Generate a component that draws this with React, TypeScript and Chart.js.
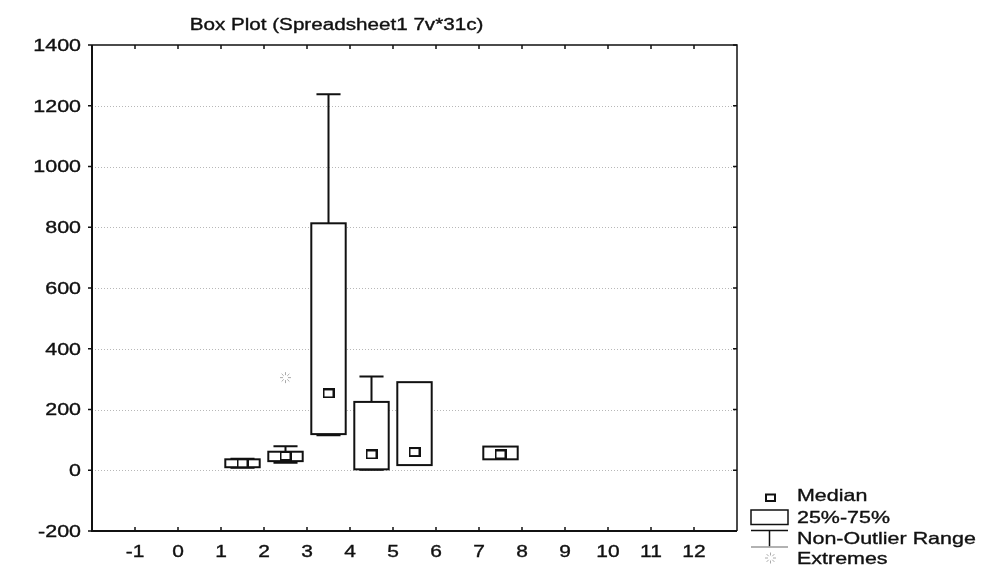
import React, { useEffect, useRef } from 'react';
import { Chart, registerables } from 'chart.js';

Chart.register(...registerables);

// ---- data ----
const chartTitle = 'Box Plot (Spreadsheet1 7v*31c)';
const variables = ['1', '2', '3', '4', '5', '6', '7'];
const positions = [1.5, 2.5, 3.5, 4.5, 5.5, 6.5, 7.5];
const minValues: (number | null)[] = [8, 25, 115, 2, 17, null, 36];
const q1Values: (number | null)[] = [10, 30, 119, 3, 17, null, 36];
const medianValues: (number | null)[] = [23, 47, 253, 52, 60, null, 52];
const q3Values: (number | null)[] = [36, 61, 813, 225, 290, null, 78];
const maxValues: (number | null)[] = [38, 79, 1238, 309, 290, null, 78];
const extremeX = [2.5];
const extremeY = [305];
const xTickValues = [-1, 0, 1, 2, 3, 4, 5, 6, 7, 8, 9, 10, 11, 12];
const yTickValues = [-200, 0, 200, 400, 600, 800, 1000, 1200, 1400];
const legendLabels = ['Median', '25%-75%', 'Non-Outlier Range', 'Extremes'];

const FONT = '"Liberation Sans", Arial, sans-serif';

function stretchedText(
  ctx: CanvasRenderingContext2D,
  text: string,
  x: number,
  y: number,
  size: number,
  stretch: number,
  align: CanvasTextAlign
) {
  ctx.save();
  ctx.translate(x, y);
  ctx.scale(stretch, 1);
  ctx.font = `${size}px ${FONT}`;
  ctx.fillStyle = '#111';
  ctx.strokeStyle = '#111';
  ctx.lineWidth = 0.35;
  ctx.textAlign = align;
  ctx.textBaseline = 'alphabetic';
  ctx.fillText(text, 0, 0);
  ctx.strokeText(text, 0, 0);
  ctx.restore();
}

function makeMedianImage() {
  const c = document.createElement('canvas');
  c.width = 12;
  c.height = 10;
  const g = c.getContext('2d')!;
  g.fillStyle = '#fff';
  g.fillRect(1, 1, 10, 8);
  g.strokeStyle = '#111';
  g.lineWidth = 2;
  g.strokeRect(1, 1, 10, 8);
  return c;
}

function drawStar(g: CanvasRenderingContext2D, cx: number, cy: number) {
  g.save();
  g.strokeStyle = '#aaa';
  g.lineWidth = 1;
  for (let k = 0; k < 8; k++) {
    const a = (Math.PI / 4) * k;
    g.beginPath();
    g.moveTo(cx + Math.cos(a) * 2.5, cy + Math.sin(a) * 2.5);
    g.lineTo(cx + Math.cos(a) * 5.5, cy + Math.sin(a) * 5.5);
    g.stroke();
  }
  g.restore();
}

function makeExtremeImage() {
  const c = document.createElement('canvas');
  c.width = 13;
  c.height = 13;
  const g = c.getContext('2d')!;
  drawStar(g, 6.5, 6.5);
  return c;
}

const boxPlugin = {
  id: 'boxPlot',
  beforeDatasetsDraw(chart: any) {
    const { ctx, chartArea: a, scales } = chart;
    const xs = scales.x;
    const ys = scales.y;
    ctx.save();
    // dotted grid
    ctx.strokeStyle = '#b8b8b8';
    ctx.lineWidth = 1;
    ctx.setLineDash([1, 2]);
    yTickValues.forEach((v) => {
      const y = Math.round(ys.getPixelForValue(v)) + 0.5;
      if (y <= a.top + 2 || y >= a.bottom - 2) return;
      ctx.beginPath();
      ctx.moveTo(a.left, y);
      ctx.lineTo(a.right, y);
      ctx.stroke();
    });
    ctx.setLineDash([]);

    // boxes and whiskers
    ctx.strokeStyle = '#111';
    variables.forEach((_, i) => {
      const q1 = q1Values[i];
      const q3 = q3Values[i];
      const mn = minValues[i];
      const mx = maxValues[i];
      if (q1 == null || q3 == null || mn == null || mx == null) return;
      const p = positions[i];
      const xc = xs.getPixelForValue(p);
      const xl = xs.getPixelForValue(p - 0.4);
      const xr = xs.getPixelForValue(p + 0.4);
      const half = xs.getPixelForValue(p + 0.28) - xc;
      const yq1 = ys.getPixelForValue(q1);
      const yq3 = ys.getPixelForValue(q3);
      const ymn = ys.getPixelForValue(mn);
      const ymx = ys.getPixelForValue(mx);
      ctx.lineWidth = 2;
      if (mx > q3) {
        ctx.beginPath();
        ctx.moveTo(xc, yq3);
        ctx.lineTo(xc, ymx);
        ctx.moveTo(xc - half, ymx);
        ctx.lineTo(xc + half, ymx);
        ctx.stroke();
      }
      if (mn < q1) {
        ctx.beginPath();
        ctx.moveTo(xc, yq1);
        ctx.lineTo(xc, ymn);
        ctx.moveTo(xc - half, ymn);
        ctx.lineTo(xc + half, ymn);
        ctx.stroke();
      }
      ctx.fillStyle = '#fff';
      ctx.fillRect(xl, yq3, xr - xl, yq1 - yq3);
      ctx.strokeRect(xl, yq3, xr - xl, yq1 - yq3);
    });
    ctx.restore();
  },
  afterDatasetsDraw(chart: any) {
    const { ctx, chartArea: a, scales } = chart;
    const xs = scales.x;
    const ys = scales.y;
    ctx.save();
    ctx.strokeStyle = '#111';
    // frame
    ctx.lineWidth = 1.5;
    ctx.beginPath();
    ctx.moveTo(a.left, a.top);
    ctx.lineTo(a.right, a.top);
    ctx.lineTo(a.right, a.bottom);
    ctx.stroke();
    ctx.lineWidth = 2;
    ctx.beginPath();
    ctx.moveTo(a.left, a.top);
    ctx.lineTo(a.left, a.bottom);
    ctx.lineTo(a.right, a.bottom);
    ctx.stroke();

    // ticks
    ctx.lineWidth = 1.5;
    ctx.beginPath();
    xTickValues.forEach((v) => {
      const x = xs.getPixelForValue(v);
      ctx.moveTo(x, a.bottom);
      ctx.lineTo(x, a.bottom - 4);
      ctx.moveTo(x, a.top);
      ctx.lineTo(x, a.top + 4);
    });
    yTickValues.forEach((v) => {
      const y = ys.getPixelForValue(v);
      ctx.moveTo(a.left, y);
      ctx.lineTo(a.left - 4, y);
      ctx.moveTo(a.right, y);
      ctx.lineTo(a.right - 4, y);
    });
    ctx.stroke();

    // tick labels
    xTickValues.forEach((v) => {
      stretchedText(ctx, String(v), xs.getPixelForValue(v), a.bottom + 26, 16.5, 1.27, 'center');
    });
    yTickValues.forEach((v) => {
      stretchedText(ctx, String(v), a.left - 11, ys.getPixelForValue(v) + 5.9, 16.5, 1.3, 'right');
    });

    // title
    stretchedText(ctx, chartTitle, 336.5, 30, 16, 1.29, 'center');

    // legend
    const lx = 797;
    const baselines = [501, 523, 543.5, 564];
    legendLabels.forEach((t, i) => {
      stretchedText(ctx, t, lx, baselines[i], 16.5, 1.3, 'left');
    });
    // median icon
    ctx.lineWidth = 2;
    ctx.strokeStyle = '#111';
    ctx.strokeRect(766, 494.5, 9, 6.5);
    // box icon
    ctx.lineWidth = 1.5;
    ctx.strokeRect(751, 510, 37, 14.5);
    // whisker icon
    ctx.beginPath();
    ctx.moveTo(751, 530.5);
    ctx.lineTo(788, 530.5);
    ctx.moveTo(769.5, 530.5);
    ctx.lineTo(769.5, 546.5);
    ctx.stroke();
    ctx.strokeStyle = '#999';
    ctx.beginPath();
    ctx.moveTo(751, 547);
    ctx.lineTo(788, 547);
    ctx.stroke();
    // extreme icon
    drawStar(ctx, 770.5, 558);
    ctx.restore();
  },
};

export default function App() {
  const ref = useRef<HTMLCanvasElement | null>(null);
  useEffect(() => {
    if (!ref.current) return;
    const medianImg = makeMedianImage();
    const extremeImg = makeExtremeImage();
    const medianPoints = positions
      .map((p, i) => (medianValues[i] == null ? null : { x: p, y: medianValues[i] as number }))
      .filter((d) => d !== null) as { x: number; y: number }[];
    const extremePoints = extremeX.map((x, i) => ({ x, y: extremeY[i] }));
    const chart = new Chart(ref.current, {
      type: 'scatter',
      data: {
        datasets: [
          {
            label: 'Median',
            data: medianPoints,
            pointStyle: medianImg as any,
            pointRadius: 6,
            showLine: false,
          },
          {
            label: 'Extremes',
            data: extremePoints,
            pointStyle: extremeImg as any,
            pointRadius: 6,
            showLine: false,
          },
        ],
      },
      options: {
        responsive: false,
        animation: false,
        devicePixelRatio: 1,
        layout: { padding: { left: 92, top: 45, right: 251, bottom: 40 } },
        plugins: {
          legend: { display: false },
          tooltip: { enabled: false },
          title: { display: false },
        },
        scales: {
          x: { type: 'linear', min: -2, max: 13, display: false },
          y: { type: 'linear', min: -200, max: 1400, display: false },
        },
      },
      plugins: [boxPlugin],
    });
    return () => chart.destroy();
  }, []);
  return (
    <div style={{ position: 'absolute', left: 0, top: 0, width: 988, height: 571, background: '#fff' }}>
      <canvas ref={ref} width={988} height={571} style={{ width: 988, height: 571, display: 'block' }} />
    </div>
  );
}
